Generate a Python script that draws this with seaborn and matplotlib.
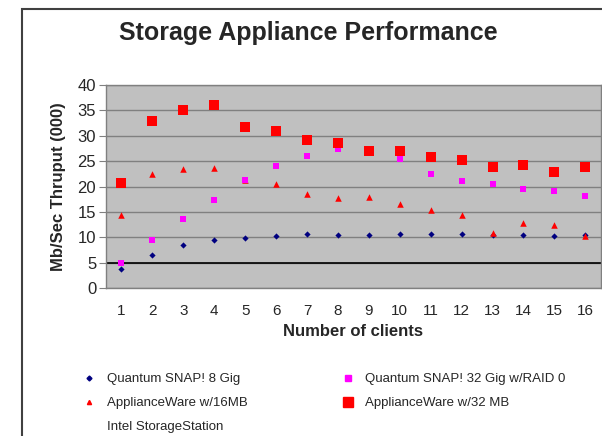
import numpy as np
import pandas as pd
import matplotlib
matplotlib.use("Agg")
import matplotlib.pyplot as plt
from matplotlib.lines import Line2D
from matplotlib.patches import Rectangle
import seaborn as sns

# data
clients = list(range(1, 17))
snap_8gig = [3.8, 6.5, 8.5, 9.5, 9.8, 10.2, 10.6, 10.4, 10.4, 10.7, 10.6, 10.7, 10.4, 10.4, 10.2, 10.4]
snap_32gig = [4.9, 9.5, 13.6, 17.3, 21.3, 24.0, 26.0, 27.4, 26.8, 25.4, 22.5, 21.1, 20.5, 19.5, 19.1, 18.1]
aw_16mb = [14.4, 22.5, 23.4, 23.6, 21.3, 20.5, 18.6, 17.7, 17.9, 16.5, 15.4, 14.4, 10.9, 12.9, 12.5, 10.3]
aw_32mb = [20.7, 32.9, 35.1, 36.1, 31.7, 30.9, 29.1, 28.6, 27.0, 27.0, 25.9, 25.3, 23.9, 24.2, 22.9, 23.8]
axis_cross = 5
labels = ["Quantum SNAP! 8 Gig", "Quantum SNAP! 32 Gig w/RAID 0",
          "ApplianceWare w/16MB", "ApplianceWare w/32 MB", "Intel StorageStation"]

sns.set_style("white")
plt.rcParams["font.family"] = ["Liberation Sans", "DejaVu Sans"]

fig = plt.figure(figsize=(6.02, 4.36), dpi=100)
ax = fig.add_axes([0.176, 0.339, 0.822, 0.466])
ax.set_facecolor("#C0C0C0")

styles = [
    (snap_8gig, labels[0], "#000080", "D", 10),
    (aw_16mb, labels[2], "#FF0000", "^", 22),
    (snap_32gig, labels[1], "#FF00FF", "s", 20),
    (aw_32mb, labels[3], "#FF0000", "s", 60),
]
for vals, name, col, mk, sz in styles:
    df = pd.DataFrame({"clients": clients, "thruput": vals})
    sns.scatterplot(data=df, x="clients", y="thruput", color=col, marker=mk,
                    s=sz, linewidth=0, ax=ax, zorder=3)

ax.axhline(axis_cross, color="black", lw=1.2, zorder=2)
ax.set_xlim(0.5, 16.5)
ax.set_ylim(0, 40)
ax.set_yticks(range(0, 41, 5))
ax.set_xticks(clients)
ax.yaxis.grid(True, color="#808080", lw=1)
ax.set_axisbelow(True)
for s in ax.spines.values():
    s.set_color("#808080")
    s.set_linewidth(1)
ax.tick_params(axis="y", left=True, length=5, color="#808080", labelsize=12, pad=2)
ax.tick_params(axis="x", bottom=False, labelsize=11, pad=8)
ax.set_xlabel("Number of clients", fontsize=12, fontweight="bold", labelpad=4)
ax.set_ylabel("Mb/Sec Thruput (000)", fontsize=12, fontweight="bold", labelpad=8)
fig.text(0.512, 0.925, "Storage Appliance Performance", ha="center", va="center",
         fontsize=18, fontweight="bold")

handles = [
    Line2D([], [], ls="", marker="D", ms=2.5, color="#000080"),
    Line2D([], [], ls="", marker="^", ms=3, color="#FF0000"),
    Line2D([], [], ls="", marker=""),
    Line2D([], [], ls="", marker="s", ms=4.5, color="#FF00FF"),
    Line2D([], [], ls="", marker="s", ms=7.5, color="#FF0000"),
]
leg_labels = [labels[0], labels[2], labels[4], labels[1], labels[3]]
fig.legend(handles, leg_labels, ncol=2, frameon=False, fontsize=9.5,
           loc="upper left", bbox_to_anchor=(0.107, 0.172), columnspacing=6.6,
           handletextpad=0.3, labelspacing=0.9)

fig.add_artist(Rectangle((0.0365, -0.01), 1.0, 0.989, transform=fig.transFigure,
                         fill=False, edgecolor="#404040", lw=1.5))

fig.savefig("out.png", dpi=100)
